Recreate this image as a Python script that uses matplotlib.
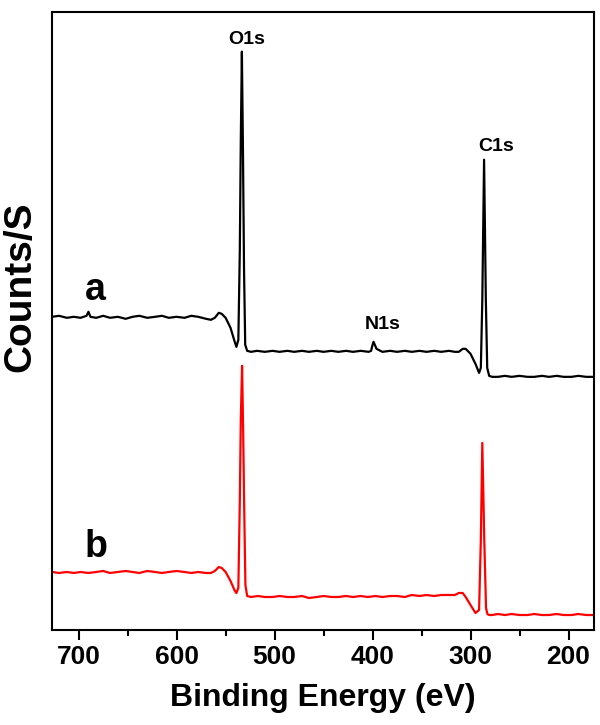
import numpy as np
import matplotlib.pyplot as plt
from matplotlib.ticker import MultipleLocator

plt.rcParams['font.family'] = ['Liberation Sans', 'DejaVu Sans']
plt.rcParams['font.weight'] = 'bold'

# spectrum a (black): binding energy (eV) and counts (arb. units)
energy_a = [727, 720, 712, 705, 698, 692, 690, 688, 682, 675, 668, 660, 652,
            645, 638, 630, 622, 615, 608, 600, 592, 585, 578, 570, 565, 561,
            557, 554, 550, 545, 541, 539, 537, 535.5, 534.5, 533.4, 532.3,
            531.2, 530, 528, 524, 518, 510, 502, 495, 487, 480, 472, 465, 457,
            450, 442, 435, 427, 420, 412, 404, 401.5, 400.3, 399, 396, 390,
            382, 375, 367, 360, 352, 345, 337, 330, 322, 316, 312, 308, 305,
            300, 295, 291.3, 289.5, 288, 286.2, 284.4, 283, 281, 278, 272,
            265, 258, 250, 242, 235, 227, 220, 212, 205, 197, 190, 182, 174]
counts_a = [313, 314, 312, 313, 312, 314, 318, 313, 312, 314, 312, 313, 311,
            313, 314, 312, 313, 314, 312, 313, 312, 314, 313, 311, 310, 312,
            317, 316, 312, 302, 289, 283, 290, 380, 490, 578, 480, 360, 285,
            279, 278, 279, 278, 279, 278, 279, 278, 279, 278, 279, 278, 279,
            278, 279, 278, 279, 278, 279, 284, 288, 281, 278, 279, 278, 279,
            278, 279, 278, 279, 278, 279, 278, 278, 281, 281, 276, 266, 257,
            262, 330, 470, 330, 262, 254, 253, 253, 254, 253, 254, 253, 253,
            254, 253, 254, 253, 253, 254, 253, 253]

# spectrum b (red)
energy_b = [727, 720, 712, 705, 698, 690, 682, 675, 668, 660, 652, 645, 638,
            630, 622, 615, 608, 600, 592, 585, 578, 570, 565, 561, 557, 554,
            550, 545, 541, 539, 537, 535.5, 534.5, 533.2, 532.1, 531, 529.8,
            528, 524, 517, 510, 502, 495, 487, 480, 472, 465, 457, 450, 442,
            435, 427, 420, 412, 405, 397, 390, 382, 375, 367, 360, 352, 345,
            337, 330, 322, 316, 312, 308, 305, 300, 295, 291.3, 289.5, 288,
            286, 284.2, 282.8, 281, 278, 272, 265, 258, 250, 242, 235, 227,
            220, 212, 205, 197, 190, 182, 174]
counts_b = [58, 57, 58, 57, 58, 57, 58, 59, 57, 58, 59, 58, 57, 59, 58, 57,
            58, 59, 58, 57, 58, 57, 57, 59, 63, 62, 58, 49, 40, 37, 42, 130,
            210, 264, 200, 120, 45, 34, 33, 34, 33, 33, 34, 33, 33, 34, 32,
            33, 34, 33, 33, 34, 33, 34, 33, 34, 33, 34, 34, 33, 35, 34, 35,
            34, 35, 35, 35, 37, 37, 33, 25, 17, 20, 90, 187, 90, 22, 16, 15,
            15, 16, 15, 16, 15, 15, 16, 15, 15, 16, 15, 15, 16, 15, 15]

peak_names = ['O1s', 'N1s', 'C1s']
peak_energy = [529, 390, 274]
peak_counts = [582, 297, 475]

tick_energy = [700, 600, 500, 400, 300, 200]

fig = plt.figure(figsize=(6, 7.25), dpi=100)
ax = fig.add_axes([0.087, 0.131, 0.903, 0.853])

ax.plot(energy_a, counts_a, color='black', lw=1.6)
ax.plot(energy_b, counts_b, color='red', lw=1.6)

ax.set_xlim(727, 174)
ax.set_ylim(0, 618)

for name, e, c in zip(peak_names, peak_energy, peak_counts):
    ax.text(e, c, name, ha='center', va='bottom', fontsize=14, fontweight='bold')

ax.text(0.08, 0.55, 'a', transform=ax.transAxes, ha='center', va='center',
        fontsize=27, fontweight='bold')
ax.text(0.08, 0.135, 'b', transform=ax.transAxes, ha='center', va='center',
        fontsize=27, fontweight='bold')

ax.set_xticks(tick_energy)
ax.xaxis.set_minor_locator(MultipleLocator(50))
ax.set_yticks([])
ax.tick_params(axis='x', which='major', direction='out', length=7, width=1.5,
               labelsize=19, pad=4)
ax.tick_params(axis='x', which='minor', direction='out', length=4, width=1.5)
for lab in ax.get_xticklabels():
    lab.set_fontweight('bold')
for sp in ax.spines.values():
    sp.set_linewidth(1.5)

ax.set_xlabel('Binding Energy (eV)', fontsize=23, fontweight='bold')
ax.set_ylabel('Counts/S', fontsize=28, fontweight='bold')
ax.xaxis.set_label_coords(0.5, -0.085)
ax.yaxis.set_label_coords(-0.025, 0.555)

fig.savefig('out.png', dpi=100)
